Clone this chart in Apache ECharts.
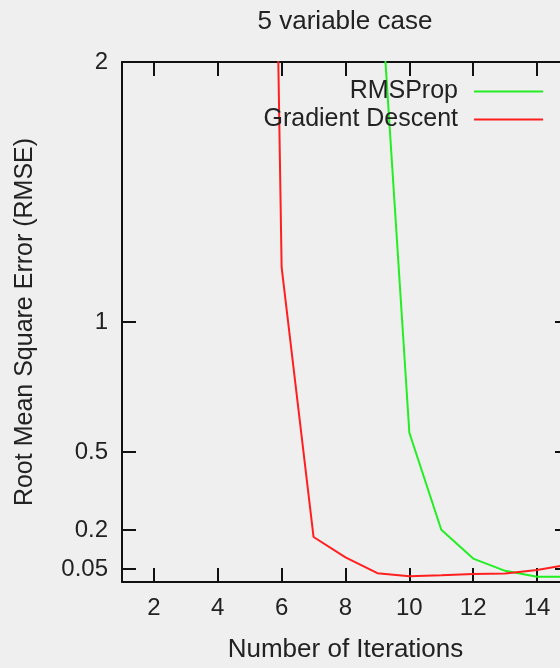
<!DOCTYPE html>
<html>
<head>
<meta charset="utf-8">
<script src="https://cdn.jsdelivr.net/npm/echarts@6/dist/echarts.min.js"></script>
<style>html,body{margin:0;padding:0;background:#efeff0;overflow:hidden;width:560px;height:668px;}#c{width:600px;height:668px;}</style>
</head>
<body>
<div id="c"></div>
<script>
const iterations = [5, 6, 7, 8, 9, 10, 11, 12, 13, 14, 15];
const gradientDescent = [8.8, 1.21, 0.173, 0.095, 0.034, 0.022, 0.026, 0.031, 0.033, 0.046, 0.067];
const rmspropIter = [9, 10, 11, 12, 13, 14, 15];
const rmsprop = [2.48, 0.574, 0.201, 0.09, 0.043, 0.02, 0.02];
const xTicks = [2, 4, 6, 8, 10, 12, 14];
const yTicks = [0.05, 0.2, 0.5, 1, 2];

const FONT = 'Liberation Sans';
const TXT = '#222';
const chart = echarts.init(document.getElementById('c'), null, {renderer: 'canvas'});
const axisLine = {show: true, onZero: false, lineStyle: {color: '#111', width: 2}};
const tick = (vals) => ({show: true, inside: true, length: 14, customValues: vals, lineStyle: {color: '#111', width: 2}});
chart.setOption({
  backgroundColor: '#efeff0',
  animation: false,
  title: {
    text: '5 variable case', left: 340, top: 4, textAlign: 'center',
    textStyle: {fontFamily: FONT, fontSize: 26, fontWeight: 'normal', color: TXT}
  },
  legend: {
    right: 52, top: 74, orient: 'vertical', align: 'right', icon: 'rect',
    itemWidth: 69, itemHeight: 2, itemGap: 3,
    textStyle: {fontFamily: FONT, fontSize: 25, color: TXT, padding: [0, 11, 0, 0]},
    data: ['RMSProp', 'Gradient Descent']
  },
  grid: {left: 122, top: 62, width: 447, height: 522, containLabel: false},
  xAxis: [{
    type: 'value', min: 1, max: 15, position: 'bottom',
    name: 'Number of Iterations', nameLocation: 'middle', nameGap: 55,
    nameTextStyle: {fontFamily: FONT, fontSize: 26, color: TXT},
    axisLine: axisLine, axisTick: tick(xTicks),
    axisLabel: {customValues: xTicks, margin: 14, fontFamily: FONT, fontSize: 24, color: TXT},
    splitLine: {show: false}
  }, {
    type: 'value', min: 1, max: 15, position: 'top',
    axisLine: axisLine, axisTick: tick(xTicks), axisLabel: {show: false}, splitLine: {show: false}
  }],
  yAxis: [{
    type: 'value', min: 0, max: 2, position: 'left',
    name: 'Root Mean Square Error (RMSE)', nameLocation: 'middle', nameGap: 84,
    nameTextStyle: {fontFamily: FONT, fontSize: 25, color: TXT},
    axisLine: axisLine, axisTick: tick(yTicks),
    axisLabel: {customValues: yTicks, margin: 14, fontFamily: FONT, fontSize: 24, color: TXT},
    splitLine: {show: false}
  }, {
    type: 'value', min: 0, max: 2, position: 'right',
    axisLine: axisLine, axisTick: tick(yTicks), axisLabel: {show: false}, splitLine: {show: false}
  }],
  series: [{
    name: 'RMSProp', type: 'line', symbol: 'none', clip: true,
    color: '#22ee22', lineStyle: {width: 2, color: '#22ee22'},
    data: rmspropIter.map((x, i) => [x, rmsprop[i]])
  }, {
    name: 'Gradient Descent', type: 'line', symbol: 'none', clip: true,
    color: '#ff1f1f', lineStyle: {width: 2, color: '#ff1f1f'},
    data: iterations.map((x, i) => [x, gradientDescent[i]])
  }]
});
</script>
</body>
</html>
